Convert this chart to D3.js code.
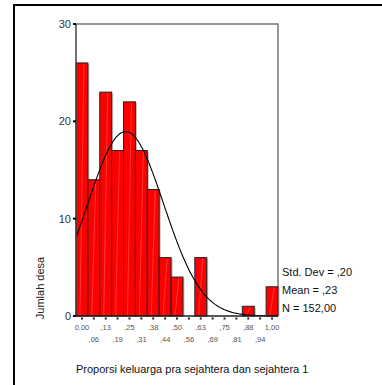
<!DOCTYPE html>
<html>
<head>
<meta charset="utf-8">
<script src="https://cdn.jsdelivr.net/npm/d3@7"></script>
<style>
  body { margin: 0; background: #fff; }
  svg { display: block; font-family: "Liberation Sans", Arial, sans-serif; }
</style>
</head>
<body>
<svg id="chart" width="382" height="385"></svg>
<script>
// bin centres (proportion) and counts per bin
const binCenters = d3.range(17).map(i => i / 16);
const counts = [26, 14, 23, 17, 22, 17, 13, 6, 4, 0, 6, 0, 0, 0, 1, 0, 3];
const tickLabels = ["0,00", ",06", ",13", ",19", ",25", ",31", ",38", ",44", ",50",
  ",56", ",63", ",69", ",75", ",81", ",88", ",94", "1,00"];
const yTicks = [0, 10, 20, 30];
const statLines = ["Std. Dev = ,20", "Mean = ,23", "N = 152,00"];
const stdDev = 0.20, mean = 0.23, total = 152;

const binWidth = 1 / 16;
const plotLeft = 76, plotRight = 278, plotTop = 24, plotBottom = 316;

const svg = d3.select("#chart");

// outer frame
svg.append("path")
    .attr("d", "M14,385V5H382")
    .attr("fill", "none")
    .attr("stroke", "#000")
    .attr("stroke-width", 2);

const x = d3.scaleLinear()
    .domain([-binWidth / 2, 1 + binWidth / 2])
    .range([plotLeft, plotRight]);

const y = d3.scaleLinear()
    .domain([0, 30])
    .range([plotBottom, plotTop]);

// plot frame (top + right)
svg.append("path")
    .attr("d", `M${plotLeft},${plotTop}H${plotRight}V${plotBottom}`)
    .attr("fill", "none")
    .attr("stroke", "#777")
    .attr("stroke-width", 1.5);

const bars = binCenters.map((c, i) => ({ c, n: counts[i] })).filter(d => d.n > 0);

// shadow
svg.selectAll("rect.shadow")
    .data(bars)
    .enter()
    .append("rect")
    .attr("x", d => x(d.c - binWidth / 2) + 1.5)
    .attr("y", d => y(d.n) + 1)
    .attr("width", d => x(d.c + binWidth / 2) - x(d.c - binWidth / 2))
    .attr("height", d => y(0) - y(d.n) - 1)
    .attr("fill", "#bbb");

svg.selectAll("rect.bar")
    .data(bars)
    .enter()
    .append("rect")
    .attr("x", d => x(d.c - binWidth / 2))
    .attr("y", d => y(d.n))
    .attr("width", d => x(d.c + binWidth / 2) - x(d.c - binWidth / 2))
    .attr("height", d => y(0) - y(d.n))
    .attr("fill", "#ff0000")
    .attr("stroke", "#222")
    .attr("stroke-width", 1);

// faint highlight streak inside each bar
svg.selectAll("line.streak")
    .data(bars)
    .enter()
    .append("line")
    .attr("x1", d => x(d.c) - 2)
    .attr("x2", d => x(d.c) + 2)
    .attr("y1", y(0) - 1)
    .attr("y2", d => y(d.n) + 1)
    .attr("stroke", "#ff9a9a")
    .attr("stroke-width", 0.6)
    .attr("opacity", 0.6);

// normal curve from mean / std dev / N
const pdf = v => total * binWidth / (stdDev * Math.sqrt(2 * Math.PI)) *
    Math.exp(-0.5 * Math.pow((v - mean) / stdDev, 2));
const curveX = d3.range(0, 201).map(i => x.domain()[0] + i * (x.domain()[1] - x.domain()[0]) / 200);
svg.append("path")
    .datum(curveX)
    .attr("d", d3.line().x(v => x(v)).y(v => y(pdf(v))))
    .attr("fill", "none")
    .attr("stroke", "#000")
    .attr("stroke-width", 1.1);

// y axis
svg.append("line")
    .attr("x1", plotLeft).attr("x2", plotLeft)
    .attr("y1", plotTop).attr("y2", plotBottom)
    .attr("stroke", "#444")
    .attr("stroke-width", 1.5);

const yAxis = svg.append("g");
yAxis.selectAll("rect")
    .data(yTicks)
    .enter()
    .append("rect")
    .attr("x", plotLeft - 3)
    .attr("y", d => y(d) - 1)
    .attr("width", 3)
    .attr("height", 2)
    .attr("fill", "#000");
yAxis.selectAll("text")
    .data(yTicks)
    .enter()
    .append("text")
    .attr("x", plotLeft - 5)
    .attr("y", d => y(d))
    .attr("dy", "0.36em")
    .attr("text-anchor", "end")
    .attr("font-size", 11)
    .attr("fill", "#333")
    .text(d => d);

// x axis
svg.append("line")
    .attr("x1", plotLeft).attr("x2", plotRight)
    .attr("y1", plotBottom).attr("y2", plotBottom)
    .attr("stroke", "#222")
    .attr("stroke-width", 1.5);

const xAxis = svg.append("g");
xAxis.selectAll("rect")
    .data(binCenters)
    .enter()
    .append("rect")
    .attr("x", d => x(d) - 1)
    .attr("y", plotBottom + 1.5)
    .attr("width", 2)
    .attr("height", 2)
    .attr("fill", "#222");
xAxis.selectAll("text")
    .data(binCenters)
    .enter()
    .append("text")
    .attr("x", d => x(d))
    .attr("y", (d, i) => i % 2 === 0 ? 327 : 339)
    .attr("dy", "0.36em")
    .attr("text-anchor", "middle")
    .attr("font-size", 7.5)
    .attr("fill", "#555")
    .text((d, i) => tickLabels[i]);

// stats
svg.selectAll("text.stat")
    .data(statLines)
    .enter()
    .append("text")
    .attr("x", 282)
    .attr("y", (d, i) => 272 + i * 18)
    .attr("dy", "0.36em")
    .attr("font-size", 11)
    .attr("fill", "#111")
    .text(d => d);

// axis titles
svg.append("text")
    .attr("transform", "translate(40,288) rotate(-90)")
    .attr("dy", "0.36em")
    .attr("text-anchor", "middle")
    .attr("font-size", 11)
    .attr("fill", "#222")
    .text("Jumlah desa");

svg.append("text")
    .attr("x", plotLeft)
    .attr("y", 369)
    .attr("dy", "0.36em")
    .attr("font-size", 11)
    .attr("fill", "#111")
    .text("Proporsi keluarga pra sejahtera dan sejahtera 1");
</script>
</body>
</html>
